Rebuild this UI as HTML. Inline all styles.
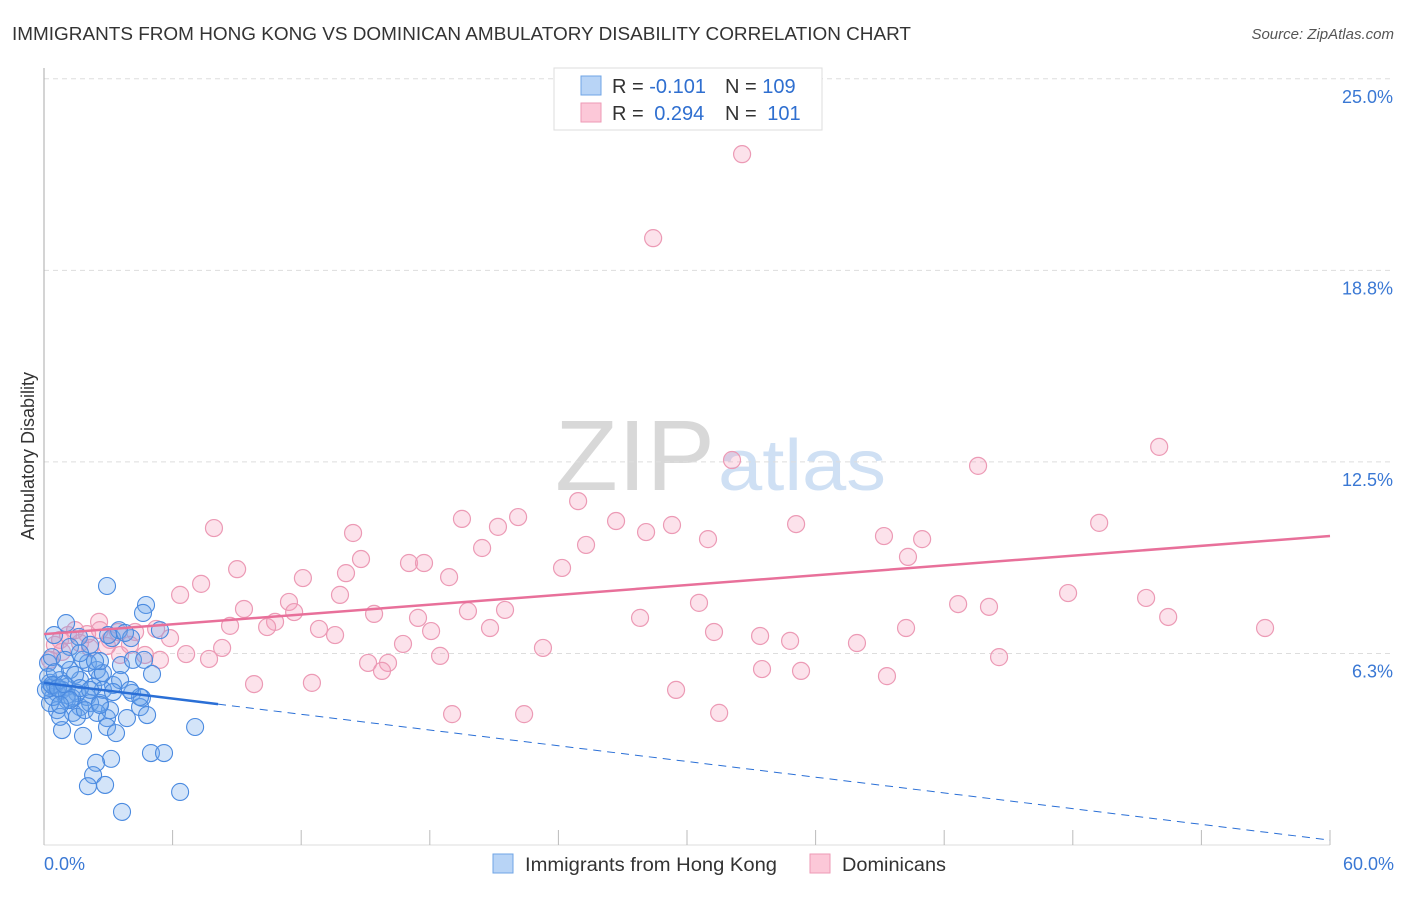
<!DOCTYPE html>
<html><head><meta charset="utf-8"><style>
body{margin:0;background:#fff;font-family:"Liberation Sans",sans-serif;}
svg text{font-family:"Liberation Sans",sans-serif;}
</style></head><body>
<svg id="chart" width="1406" height="892" xmlns="http://www.w3.org/2000/svg">
<text x="12" y="40" font-size="18" fill="#333" textLength="899" lengthAdjust="spacingAndGlyphs">IMMIGRANTS FROM HONG KONG VS DOMINICAN AMBULATORY DISABILITY CORRELATION CHART</text>
<text x="1394" y="39" font-size="15" fill="#555" text-anchor="end" font-style="italic">Source: ZipAtlas.com</text>
<g>
<text x="555" y="490" font-size="100" fill="#d8d8d8" font-family="Liberation Serif,serif" textLength="160" lengthAdjust="spacingAndGlyphs">ZIP</text>
<text x="718" y="490" font-size="72" fill="#cfe0f4" textLength="168" lengthAdjust="spacingAndGlyphs">atlas</text>
</g>
<g id="grid"></g><g id="axes"></g><g id="pinkpts"></g><g id="bluepts"></g><g id="trends"></g>
<text transform="translate(34,456) rotate(-90)" font-size="18" fill="#333" text-anchor="middle">Ambulatory Disability</text>
<g>
<rect x="554" y="68" width="268" height="62" fill="#fff" stroke="#ddd"/>
<rect x="581" y="76" width="20" height="19" fill="#b8d4f6" stroke="#6fa4e6"/>
<rect x="581" y="103" width="20" height="19" fill="#fcc8d8" stroke="#ee9ab6"/>
<text x="612" y="93" font-size="20" fill="#333">R = <tspan fill="#2f6fd0">-0.101</tspan></text>
<text x="725" y="93" font-size="20" fill="#333">N = <tspan fill="#2f6fd0">109</tspan></text>
<text x="612" y="120" font-size="20" fill="#333">R = <tspan fill="#2f6fd0" dx="5">0.294</tspan></text>
<text x="725" y="120" font-size="20" fill="#333">N = <tspan fill="#2f6fd0" dx="5">101</tspan></text>
</g>
<g>
<rect x="493" y="854" width="20" height="19" fill="#b8d4f6" stroke="#6fa4e6"/>
<text x="525" y="871" font-size="19" fill="#333" textLength="252" lengthAdjust="spacingAndGlyphs">Immigrants from Hong Kong</text>
<rect x="810" y="854" width="20" height="19" fill="#fcc8d8" stroke="#ee9ab6"/>
<text x="842" y="871" font-size="19" fill="#333" textLength="104" lengthAdjust="spacingAndGlyphs">Dominicans</text>
</g>
</svg>
<script>
const yTicks=[6.25,12.5,18.75,25];
const yTickLabels=["6.3%","12.5%","18.8%","25.0%"];
const xTickVals=[0,6,12,18,24,30,36,42,48,54,60];
const xLabels=["0.0%","60.0%"];
const pinkX=[32.57,28.42,52.03,43.58,32.10,24.92,7.93,14.42,19.50,22.12,21.18,26.69,29.30,28.09,35.09,49.23,39.19,40.97,30.98,25.29,20.44,14.79,17.03,17.73,40.31,9.01,14.09,12.08,18.90,24.17,7.33,6.35,13.81,11.43,30.56,9.33,47.78,51.42,42.65,44.09,11.67,15.40,19.78,21.51,17.45,27.81,52.45,56.97,8.68,10.78,10.41,12.83,13.58,20.81,18.06,31.26,40.22,5.23,4.25,5.88,2.57,33.41,34.81,37.93,16.75,23.28,8.31,6.63,7.70,18.48,15.12,16.05,44.56,15.77,33.50,35.32,39.33,9.80,12.50,29.49,19.04,22.40,31.50,0.51,0.75,1.12,1.68,2.15,3.08,3.55,1.45,0.28,4.71,4.01,5.41,0.84,2.61,2.01,2.94,3.45];
const pinkY=[22.54,19.80,12.99,12.37,12.56,11.22,10.34,10.18,10.64,10.70,10.38,10.57,10.44,10.21,10.47,10.51,10.08,9.98,9.98,9.79,9.69,9.33,9.20,9.20,9.40,9.00,8.87,8.71,8.74,9.04,8.52,8.16,8.16,7.93,7.90,7.70,8.22,8.06,7.86,7.77,7.60,7.54,7.63,7.67,7.41,7.41,7.44,7.08,7.15,7.28,7.11,7.05,6.85,7.08,6.98,6.95,7.08,7.05,6.95,6.75,7.28,6.82,6.66,6.59,6.56,6.43,6.43,6.23,6.07,6.17,5.94,5.94,6.13,5.68,5.74,5.68,5.51,5.25,5.29,5.06,4.27,4.27,4.31,6.53,6.69,6.85,6.59,6.43,6.69,6.20,7.01,6.04,6.20,6.53,6.04,6.30,7.01,6.88,6.49,6.95];
const blueX=[2.94,4.76,4.62,1.03,0.47,1.63,3.17,3.50,4.06,5.41,2.15,2.05,3.59,4.15,4.67,5.04,2.61,3.22,0.28,0.61,1.07,1.68,2.01,2.61,4.11,4.57,4.48,4.81,3.87,2.94,2.94,3.36,7.05,0.84,1.82,4.99,5.60,3.13,2.43,2.29,2.05,2.85,6.35,3.64,0.61,1.35,0.28,1.07,1.68,2.29,0.42,0.75,1.21,1.82,2.47,2.75,3.08,1.54,0.75,0.19,0.37,1.21,1.68,2.75,3.55,3.22,4.48,1.54,2.15,0.28,0.51,0.84,1.07,1.31,1.91,2.47,0.19,2.99,3.78,2.61,2.38,0.98,0.51,1.45,1.68,2.15,1.21,4.01,2.61,0.75,0.09,0.37,0.65,0.93];
const blueY=[8.45,7.83,7.57,7.24,6.85,6.79,6.75,7.01,6.75,7.01,6.53,5.94,5.87,6.04,6.04,5.58,5.48,5.22,5.29,4.96,4.73,4.50,4.83,4.63,4.96,4.80,4.50,4.24,4.14,4.14,3.85,3.65,3.85,3.75,3.56,3.00,3.00,2.81,2.68,2.28,1.92,1.96,1.73,1.08,4.40,4.31,4.63,5.16,5.38,5.16,4.83,5.38,5.71,6.04,5.71,5.06,4.40,4.18,4.18,5.94,6.13,6.46,6.26,5.61,5.38,4.99,4.83,4.96,4.63,5.12,5.22,5.06,4.89,4.80,4.40,4.31,5.48,6.85,6.92,6.00,6.00,6.04,5.64,5.55,5.12,5.06,4.73,5.06,4.57,4.57,5.06,5.22,5.12,5.25];
const pinkTrend=[6.88,10.08]; // y at x=0 and x=60
const blueTrend=[5.29,0.16];  // y at x=0 and x=60
const blueSolidEnd=8.12;

const NS="http://www.w3.org/2000/svg";
const X0=44,X1=1330,Y0=845,PXY=30.65;
const sx=v=>X0+(X1-X0)*v/60, sy=v=>Y0-v*PXY;
function mk(tag,at,parent){const e=document.createElementNS(NS,tag);for(const k in at)e.setAttribute(k,at[k]);document.getElementById(parent).appendChild(e);return e;}
yTicks.forEach((t,i)=>{
 const l=mk('line',{x1:X0,x2:1394,y1:sy(t),y2:sy(t),stroke:'#ddd','stroke-dasharray':'5,4'},'grid');
 
 
 const tx=mk('text',{x:1393,y:sy(t)+24,'font-size':18,fill:'#3a78d4','text-anchor':'end'},'grid');
 tx.textContent=yTickLabels[i];
 
 
});
const ya=mk('line',{x1:X0,x2:X0,y1:68,y2:Y0,stroke:'#aaa'},'axes');


const xa=mk('line',{x1:X0,x2:X1,y1:Y0,y2:Y0,stroke:'#ddd'},'axes');


xTickVals.forEach(v=>{
 const t=mk('line',{x1:sx(v),x2:sx(v),y1:Y0-15,y2:Y0,stroke:'#bbb'},'axes');
 
 
});
[[0,'start',44],[60,'end',1394]].forEach((a,i)=>{
 const t=mk('text',{x:a[2],y:870,'font-size':18,fill:'#3a78d4','text-anchor':a[1]},'axes');
 t.textContent=xLabels[i];
 
 
});
pinkX.forEach((v,i)=>{
 const c=mk('circle',{cx:sx(v),cy:sy(pinkY[i]),r:8.5,fill:'rgba(246,160,190,0.3)',stroke:'#ec9ab5','stroke-width':1.2},'pinkpts');
 
 
});
blueX.forEach((v,i)=>{
 const c=mk('circle',{cx:sx(v),cy:sy(blueY[i]),r:8.5,fill:'rgba(110,165,235,0.3)',stroke:'#4a8ae0','stroke-width':1.1},'bluepts');
 
 
});
const pt=mk('line',{x1:sx(0),y1:sy(pinkTrend[0]),x2:sx(60),y2:sy(pinkTrend[1]),stroke:'#e8709a','stroke-width':2.5},'trends');


const by=x=>blueTrend[0]+(blueTrend[1]-blueTrend[0])*x/60;
const bs=mk('line',{x1:sx(0),y1:sy(by(0)),x2:sx(blueSolidEnd),y2:sy(by(blueSolidEnd)),stroke:'#2a6fd6','stroke-width':2.5},'trends');


const bd=mk('line',{x1:sx(blueSolidEnd),y1:sy(by(blueSolidEnd)),x2:sx(60),y2:sy(by(60)),stroke:'#2a6fd6','stroke-width':1,'stroke-dasharray':'8,6'},'trends');


</script>
</body></html>
